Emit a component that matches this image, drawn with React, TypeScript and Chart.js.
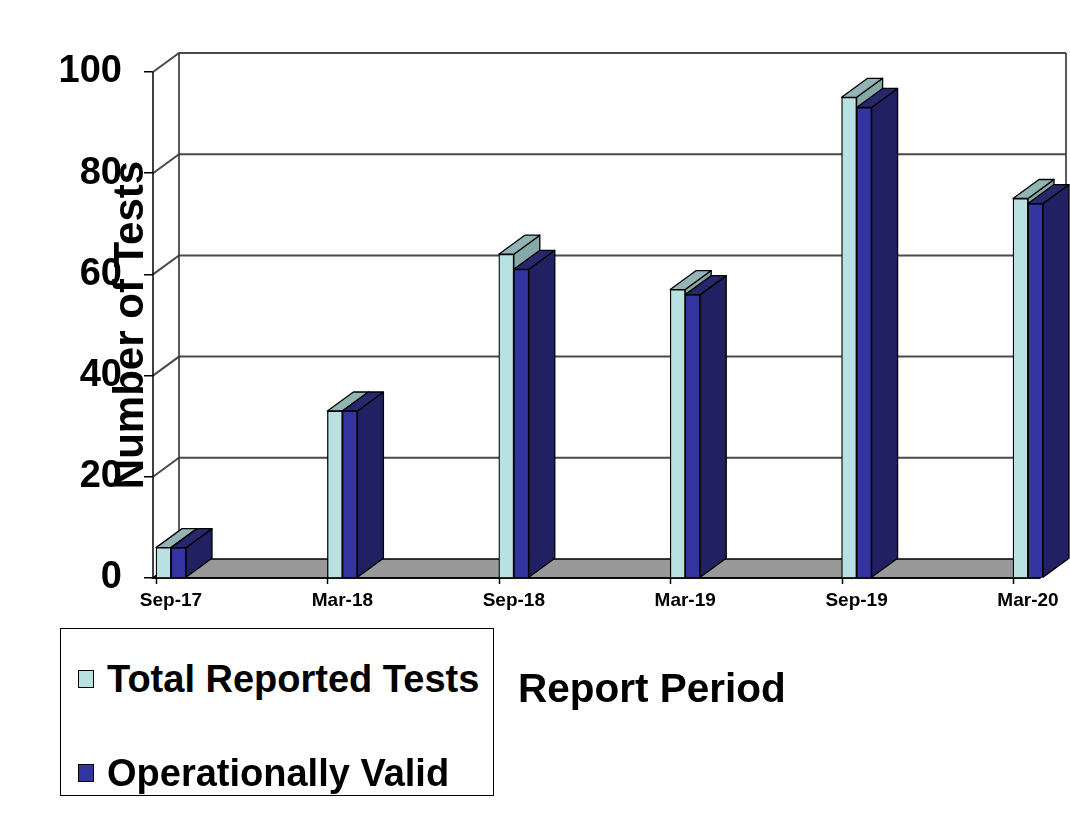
import React, { useEffect, useRef } from 'react';
import { Chart, registerables } from 'chart.js';

Chart.register(...registerables);

// ---- data ----
const categories = ['Sep-17', 'Mar-18', 'Sep-18', 'Mar-19', 'Sep-19', 'Mar-20'];
const totalReportedTests = [6, 33, 64, 57, 95, 75];
const operationallyValid = [6, 33, 61, 56, 93, 74];
const yTickValues = [0, 20, 40, 60, 80, 100];
const seriesLabels = ['Total Reported Tests', 'Operationally Valid'];

// ---- style ----
const FONT = '"Liberation Sans", Arial, Helvetica, sans-serif';
const COLORS = {
  lightFront: '#B9E1E1',
  lightTop: '#93B4B4',
  lightSide: '#87A8A8',
  darkFront: '#3434A0',
  darkTop: '#27276C',
  darkSide: '#202062',
  floor: '#999999',
  grid: '#4a4a4a',
};
const BAR_W = 15;
const DX = 26;
const DY = 19;

function drawFaces(ctx: CanvasRenderingContext2D, el: any, side: string, top: string) {
  const l = el.x - el.width / 2;
  const r = el.x + el.width / 2;
  const yt = el.y;
  const base = el.base;
  ctx.lineWidth = 1.3;
  ctx.strokeStyle = '#000';
  ctx.lineJoin = 'round';
  // side face
  ctx.beginPath();
  ctx.moveTo(r, yt);
  ctx.lineTo(r + DX, yt - DY);
  ctx.lineTo(r + DX, base - DY);
  ctx.lineTo(r, base);
  ctx.closePath();
  ctx.fillStyle = side;
  ctx.fill();
  ctx.stroke();
  // top face
  ctx.beginPath();
  ctx.moveTo(l, yt);
  ctx.lineTo(r, yt);
  ctx.lineTo(r + DX, yt - DY);
  ctx.lineTo(l + DX, yt - DY);
  ctx.closePath();
  ctx.fillStyle = top;
  ctx.fill();
  ctx.stroke();
}

const box3d = {
  id: 'box3d',
  beforeDatasetsDraw(chart: any) {
    const ctx: CanvasRenderingContext2D = chart.ctx;
    const { left, right, top, bottom } = chart.chartArea;
    const xs = chart.scales.x;
    const ys = chart.scales.y;
    ctx.save();
    // back-wall gridlines and side-wall diagonals
    ctx.strokeStyle = COLORS.grid;
    ctx.lineWidth = 2;
    yTickValues.forEach((v) => {
      const yf = ys.getPixelForValue(v);
      const yb = yf - DY;
      ctx.beginPath();
      ctx.moveTo(left, yf);
      ctx.lineTo(left + DX, yb);
      if (v > 0) ctx.lineTo(right + DX, yb);
      ctx.stroke();
    });
    // back wall verticals
    ctx.strokeStyle = '#333';
    ctx.lineWidth = 1.6;
    ctx.beginPath();
    ctx.moveTo(left + DX, top - DY);
    ctx.lineTo(left + DX, bottom - DY);
    ctx.moveTo(right + DX, top - DY);
    ctx.lineTo(right + DX, bottom - DY);
    ctx.stroke();
    // floor
    ctx.beginPath();
    ctx.moveTo(left, bottom);
    ctx.lineTo(left + DX, bottom - DY);
    ctx.lineTo(right + DX, bottom - DY);
    ctx.lineTo(right, bottom);
    ctx.closePath();
    ctx.fillStyle = COLORS.floor;
    ctx.fill();
    ctx.strokeStyle = '#000';
    ctx.lineWidth = 1.5;
    ctx.stroke();
    // front axes
    ctx.beginPath();
    ctx.moveTo(left, top);
    ctx.lineTo(left, bottom);
    ctx.lineTo(right, bottom);
    ctx.stroke();
    // x tick marks at the left edge of each bar group
    ctx.beginPath();
    categories.forEach((_, i) => {
      const px = Math.round(xs.getPixelForValue(i) - BAR_W) + 0.5;
      ctx.moveTo(px, bottom);
      ctx.lineTo(px, bottom + 6);
    });
    ctx.stroke();
    // light bars: side + top (behind the dark fronts)
    const meta0 = chart.getDatasetMeta(0);
    meta0.data.forEach((el: any) => drawFaces(ctx, el, COLORS.lightSide, COLORS.lightTop));
    ctx.restore();
  },
  afterDatasetsDraw(chart: any) {
    const ctx: CanvasRenderingContext2D = chart.ctx;
    ctx.save();
    const meta1 = chart.getDatasetMeta(1);
    meta1.data.forEach((el: any) => drawFaces(ctx, el, COLORS.darkSide, COLORS.darkTop));
    ctx.restore();
  },
};

export default function App() {
  const canvasRef = useRef<HTMLCanvasElement | null>(null);

  useEffect(() => {
    if (!canvasRef.current) return;
    const chart = new Chart(canvasRef.current, {
      type: 'bar',
      data: {
        datasets: [
          {
            label: seriesLabels[0],
            data: totalReportedTests.map((v, i) => ({ x: i, y: v })),
            backgroundColor: COLORS.lightFront,
            borderColor: '#000',
            borderWidth: 1.3,
            barThickness: BAR_W,
            clip: false as any,
          },
          {
            label: seriesLabels[1],
            data: operationallyValid.map((v, i) => ({ x: i, y: v })),
            backgroundColor: COLORS.darkFront,
            borderColor: '#000',
            borderWidth: 1.3,
            barThickness: BAR_W,
            clip: false as any,
          },
        ],
      },
      options: {
        animation: false,
        responsive: false,
        devicePixelRatio: 1,
        layout: { padding: { top: 72, right: 28, left: 0, bottom: 0 } },
        plugins: { legend: { display: false }, tooltip: { enabled: false } },
        scales: {
          x: {
            type: 'linear',
            offset: false,
            min: -0.105,
            max: 5.07,
            afterBuildTicks: (s: any) => {
              s.ticks = categories.map((_, i) => ({ value: i }));
            },
            afterFit: (s: any) => {
              s.height = 258;
            },
            grid: { display: false, drawTicks: false, offset: false },
            border: { display: false },
            ticks: {
              autoSkip: false,
              maxRotation: 0,
              padding: 11,
              color: '#000',
              font: { family: FONT, weight: 'bold', size: 19 },
              callback: (v: any) => categories[v] ?? '',
            },
          },
          y: {
            min: 0,
            max: 100,
            afterBuildTicks: (s: any) => {
              s.ticks = yTickValues.map((v) => ({ value: v }));
            },
            afterFit: (s: any) => {
              s.width = 153;
            },
            grid: {
              display: true,
              drawOnChartArea: false,
              drawTicks: true,
              tickLength: 9,
              color: '#000',
              lineWidth: 1.5,
            },
            border: { display: false },
            ticks: {
              padding: 22,
              color: '#000',
              font: { family: FONT, weight: 'bold', size: 38 },
            },
            title: {
              display: true,
              text: 'Number of Tests',
              color: '#000',
              font: { family: FONT, weight: 'bold', size: 42 },
              padding: { top: 106, bottom: 0 },
            },
          },
        },
      },
      plugins: [box3d],
    } as any);
    return () => chart.destroy();
  }, []);

  const legendColors = [COLORS.lightFront, COLORS.darkFront];
  const legendCenters = [50, 144];

  return (
    <div style={{ position: 'fixed', left: 0, top: 0, width: 1070, height: 836, background: '#fff', overflow: 'hidden' }}>
      <canvas ref={canvasRef} width={1070} height={836} style={{ display: 'block', width: 1070, height: 836 }} />
      <div
        style={{
          position: 'absolute',
          left: 60,
          top: 628,
          width: 434,
          height: 168,
          border: '1.5px solid #000',
          boxSizing: 'border-box',
          background: '#fff',
          fontFamily: FONT,
          fontWeight: 'bold',
          color: '#000',
        }}
      >
        {seriesLabels.map((lab, i) => (
          <div key={lab}>
            <div
              style={{
                position: 'absolute',
                left: 17,
                top: legendCenters[i] - 9,
                width: 16,
                height: 18,
                boxSizing: 'border-box',
                border: '1.5px solid #000',
                background: legendColors[i],
              }}
            />
            <div
              style={{
                position: 'absolute',
                left: 46,
                top: legendCenters[i] - 25,
                height: 50,
                lineHeight: '50px',
                fontSize: 38,
                whiteSpace: 'nowrap',
              }}
            >
              {lab}
            </div>
          </div>
        ))}
      </div>
      <div
        style={{
          position: 'absolute',
          left: 518,
          top: 688 - 25,
          height: 50,
          lineHeight: '50px',
          fontSize: 40.5,
          fontFamily: FONT,
          fontWeight: 'bold',
          color: '#000',
          whiteSpace: 'nowrap',
        }}
      >
        Report Period
      </div>
    </div>
  );
}
